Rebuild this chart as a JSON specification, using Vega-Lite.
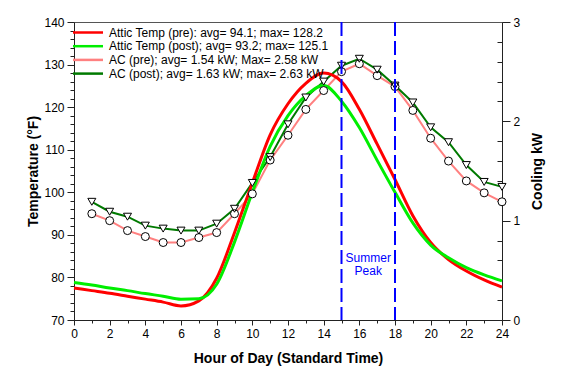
{
  "$schema": "https://vega.github.io/schema/vega-lite/v6.json",
  "width": 428,
  "height": 298,
  "autosize": "none",
  "padding": {"left": 74, "top": 22, "right": 59, "bottom": 66},
  "background": "white",
  "config": {
    "font": "Liberation Sans",
    "view": {"stroke": "#555", "strokeWidth": 1},
    "axis": {
      "grid": false,
      "labelFont": "Liberation Sans",
      "labelFontSize": 12,
      "labelColor": "#000",
      "titleFont": "Liberation Sans",
      "titleFontSize": 14,
      "titleFontWeight": "bold",
      "titleColor": "#000",
      "domainColor": "#222",
      "tickColor": "#222",
      "labelOverlap": false,
      "labelFlush": false
    },
    "legend": {"labelFont": "Liberation Sans", "labelFontSize": 12, "labelColor": "#000", "padding": 0}
  },
  "datasets": {
    "temp": [
      {"hour": 0, "series": "Attic Temp (pre): avg= 94.1; max= 128.2", "T": 77.5},
      {"hour": 1, "series": "Attic Temp (pre): avg= 94.1; max= 128.2", "T": 76.9},
      {"hour": 2, "series": "Attic Temp (pre): avg= 94.1; max= 128.2", "T": 76.3},
      {"hour": 3, "series": "Attic Temp (pre): avg= 94.1; max= 128.2", "T": 75.6},
      {"hour": 4, "series": "Attic Temp (pre): avg= 94.1; max= 128.2", "T": 74.9},
      {"hour": 5, "series": "Attic Temp (pre): avg= 94.1; max= 128.2", "T": 74.2},
      {"hour": 6, "series": "Attic Temp (pre): avg= 94.1; max= 128.2", "T": 73.3},
      {"hour": 7, "series": "Attic Temp (pre): avg= 94.1; max= 128.2", "T": 74.5},
      {"hour": 8, "series": "Attic Temp (pre): avg= 94.1; max= 128.2", "T": 79.8},
      {"hour": 9, "series": "Attic Temp (pre): avg= 94.1; max= 128.2", "T": 90.5},
      {"hour": 10, "series": "Attic Temp (pre): avg= 94.1; max= 128.2", "T": 102.2},
      {"hour": 11, "series": "Attic Temp (pre): avg= 94.1; max= 128.2", "T": 113.5},
      {"hour": 12, "series": "Attic Temp (pre): avg= 94.1; max= 128.2", "T": 120.8},
      {"hour": 13, "series": "Attic Temp (pre): avg= 94.1; max= 128.2", "T": 125.6},
      {"hour": 14, "series": "Attic Temp (pre): avg= 94.1; max= 128.2", "T": 128.0},
      {"hour": 15, "series": "Attic Temp (pre): avg= 94.1; max= 128.2", "T": 126.0},
      {"hour": 16, "series": "Attic Temp (pre): avg= 94.1; max= 128.2", "T": 119.5},
      {"hour": 17, "series": "Attic Temp (pre): avg= 94.1; max= 128.2", "T": 111.3},
      {"hour": 18, "series": "Attic Temp (pre): avg= 94.1; max= 128.2", "T": 103.0},
      {"hour": 19, "series": "Attic Temp (pre): avg= 94.1; max= 128.2", "T": 94.5},
      {"hour": 20, "series": "Attic Temp (pre): avg= 94.1; max= 128.2", "T": 88.2},
      {"hour": 21, "series": "Attic Temp (pre): avg= 94.1; max= 128.2", "T": 84.2},
      {"hour": 22, "series": "Attic Temp (pre): avg= 94.1; max= 128.2", "T": 81.5},
      {"hour": 23, "series": "Attic Temp (pre): avg= 94.1; max= 128.2", "T": 79.4},
      {"hour": 24, "series": "Attic Temp (pre): avg= 94.1; max= 128.2", "T": 77.7},
      {"hour": 0, "series": "Attic Temp (post); avg= 93.2; max= 125.1", "T": 78.8},
      {"hour": 1, "series": "Attic Temp (post); avg= 93.2; max= 125.1", "T": 78.2},
      {"hour": 2, "series": "Attic Temp (post); avg= 93.2; max= 125.1", "T": 77.5},
      {"hour": 3, "series": "Attic Temp (post); avg= 93.2; max= 125.1", "T": 76.9},
      {"hour": 4, "series": "Attic Temp (post); avg= 93.2; max= 125.1", "T": 76.2},
      {"hour": 5, "series": "Attic Temp (post); avg= 93.2; max= 125.1", "T": 75.6},
      {"hour": 6, "series": "Attic Temp (post); avg= 93.2; max= 125.1", "T": 74.9},
      {"hour": 7, "series": "Attic Temp (post); avg= 93.2; max= 125.1", "T": 75.0},
      {"hour": 8, "series": "Attic Temp (post); avg= 93.2; max= 125.1", "T": 78.4},
      {"hour": 9, "series": "Attic Temp (post); avg= 93.2; max= 125.1", "T": 88.3},
      {"hour": 10, "series": "Attic Temp (post); avg= 93.2; max= 125.1", "T": 100.0},
      {"hour": 11, "series": "Attic Temp (post); avg= 93.2; max= 125.1", "T": 110.8},
      {"hour": 12, "series": "Attic Temp (post); avg= 93.2; max= 125.1", "T": 118.0},
      {"hour": 13, "series": "Attic Temp (post); avg= 93.2; max= 125.1", "T": 122.7},
      {"hour": 14, "series": "Attic Temp (post); avg= 93.2; max= 125.1", "T": 125.1},
      {"hour": 15, "series": "Attic Temp (post); avg= 93.2; max= 125.1", "T": 121.4},
      {"hour": 16, "series": "Attic Temp (post); avg= 93.2; max= 125.1", "T": 115.2},
      {"hour": 17, "series": "Attic Temp (post); avg= 93.2; max= 125.1", "T": 107.5},
      {"hour": 18, "series": "Attic Temp (post); avg= 93.2; max= 125.1", "T": 100.0},
      {"hour": 19, "series": "Attic Temp (post); avg= 93.2; max= 125.1", "T": 92.8},
      {"hour": 20, "series": "Attic Temp (post); avg= 93.2; max= 125.1", "T": 87.6},
      {"hour": 21, "series": "Attic Temp (post); avg= 93.2; max= 125.1", "T": 84.6},
      {"hour": 22, "series": "Attic Temp (post); avg= 93.2; max= 125.1", "T": 82.3},
      {"hour": 23, "series": "Attic Temp (post); avg= 93.2; max= 125.1", "T": 80.6},
      {"hour": 24, "series": "Attic Temp (post); avg= 93.2; max= 125.1", "T": 79.2}
    ],
    "ac": [
      {"hour": 1, "series": "AC (pre); avg= 1.54 kW; Max= 2.58 kW", "kW": 1.07},
      {"hour": 2, "series": "AC (pre); avg= 1.54 kW; Max= 2.58 kW", "kW": 1.00},
      {"hour": 3, "series": "AC (pre); avg= 1.54 kW; Max= 2.58 kW", "kW": 0.90},
      {"hour": 4, "series": "AC (pre); avg= 1.54 kW; Max= 2.58 kW", "kW": 0.84},
      {"hour": 5, "series": "AC (pre); avg= 1.54 kW; Max= 2.58 kW", "kW": 0.78},
      {"hour": 6, "series": "AC (pre); avg= 1.54 kW; Max= 2.58 kW", "kW": 0.78},
      {"hour": 7, "series": "AC (pre); avg= 1.54 kW; Max= 2.58 kW", "kW": 0.83},
      {"hour": 8, "series": "AC (pre); avg= 1.54 kW; Max= 2.58 kW", "kW": 0.88},
      {"hour": 9, "series": "AC (pre); avg= 1.54 kW; Max= 2.58 kW", "kW": 1.07},
      {"hour": 10, "series": "AC (pre); avg= 1.54 kW; Max= 2.58 kW", "kW": 1.27},
      {"hour": 11, "series": "AC (pre); avg= 1.54 kW; Max= 2.58 kW", "kW": 1.61},
      {"hour": 12, "series": "AC (pre); avg= 1.54 kW; Max= 2.58 kW", "kW": 1.86},
      {"hour": 13, "series": "AC (pre); avg= 1.54 kW; Max= 2.58 kW", "kW": 2.12},
      {"hour": 14, "series": "AC (pre); avg= 1.54 kW; Max= 2.58 kW", "kW": 2.31},
      {"hour": 15, "series": "AC (pre); avg= 1.54 kW; Max= 2.58 kW", "kW": 2.50},
      {"hour": 16, "series": "AC (pre); avg= 1.54 kW; Max= 2.58 kW", "kW": 2.58},
      {"hour": 17, "series": "AC (pre); avg= 1.54 kW; Max= 2.58 kW", "kW": 2.46},
      {"hour": 18, "series": "AC (pre); avg= 1.54 kW; Max= 2.58 kW", "kW": 2.35},
      {"hour": 19, "series": "AC (pre); avg= 1.54 kW; Max= 2.58 kW", "kW": 2.11},
      {"hour": 20, "series": "AC (pre); avg= 1.54 kW; Max= 2.58 kW", "kW": 1.83},
      {"hour": 21, "series": "AC (pre); avg= 1.54 kW; Max= 2.58 kW", "kW": 1.60},
      {"hour": 22, "series": "AC (pre); avg= 1.54 kW; Max= 2.58 kW", "kW": 1.40},
      {"hour": 23, "series": "AC (pre); avg= 1.54 kW; Max= 2.58 kW", "kW": 1.28},
      {"hour": 24, "series": "AC (pre); avg= 1.54 kW; Max= 2.58 kW", "kW": 1.19},
      {"hour": 1, "series": "AC (post); avg= 1.63 kW; max= 2.63 kW", "kW": 1.19},
      {"hour": 2, "series": "AC (post); avg= 1.63 kW; max= 2.63 kW", "kW": 1.09},
      {"hour": 3, "series": "AC (post); avg= 1.63 kW; max= 2.63 kW", "kW": 1.04},
      {"hour": 4, "series": "AC (post); avg= 1.63 kW; max= 2.63 kW", "kW": 0.95},
      {"hour": 5, "series": "AC (post); avg= 1.63 kW; max= 2.63 kW", "kW": 0.92},
      {"hour": 6, "series": "AC (post); avg= 1.63 kW; max= 2.63 kW", "kW": 0.90},
      {"hour": 7, "series": "AC (post); avg= 1.63 kW; max= 2.63 kW", "kW": 0.90},
      {"hour": 8, "series": "AC (post); avg= 1.63 kW; max= 2.63 kW", "kW": 0.97},
      {"hour": 9, "series": "AC (post); avg= 1.63 kW; max= 2.63 kW", "kW": 1.12},
      {"hour": 10, "series": "AC (post); avg= 1.63 kW; max= 2.63 kW", "kW": 1.38},
      {"hour": 11, "series": "AC (post); avg= 1.63 kW; max= 2.63 kW", "kW": 1.64},
      {"hour": 12, "series": "AC (post); avg= 1.63 kW; max= 2.63 kW", "kW": 1.97},
      {"hour": 13, "series": "AC (post); avg= 1.63 kW; max= 2.63 kW", "kW": 2.24},
      {"hour": 14, "series": "AC (post); avg= 1.63 kW; max= 2.63 kW", "kW": 2.40},
      {"hour": 15, "series": "AC (post); avg= 1.63 kW; max= 2.63 kW", "kW": 2.56},
      {"hour": 16, "series": "AC (post); avg= 1.63 kW; max= 2.63 kW", "kW": 2.63},
      {"hour": 17, "series": "AC (post); avg= 1.63 kW; max= 2.63 kW", "kW": 2.52},
      {"hour": 18, "series": "AC (post); avg= 1.63 kW; max= 2.63 kW", "kW": 2.36},
      {"hour": 19, "series": "AC (post); avg= 1.63 kW; max= 2.63 kW", "kW": 2.19},
      {"hour": 20, "series": "AC (post); avg= 1.63 kW; max= 2.63 kW", "kW": 1.94},
      {"hour": 21, "series": "AC (post); avg= 1.63 kW; max= 2.63 kW", "kW": 1.79},
      {"hour": 22, "series": "AC (post); avg= 1.63 kW; max= 2.63 kW", "kW": 1.56},
      {"hour": 23, "series": "AC (post); avg= 1.63 kW; max= 2.63 kW", "kW": 1.39},
      {"hour": 24, "series": "AC (post); avg= 1.63 kW; max= 2.63 kW", "kW": 1.34}
    ],
    "peak": [{"hour": 15}, {"hour": 18}],
    "note": [{"hour": 16.5, "T": 84.6, "label": "Summer\nPeak"}]
  },
  "encoding": {
    "x": {
      "field": "hour",
      "type": "quantitative",
      "scale": {"domain": [0, 24], "nice": false, "zero": false},
      "axis": null
    }
  },
  "layer": [
    {
      "data": {"name": "ac"},
      "mark": {"type": "line", "strokeWidth": 2, "interpolate": "linear"},
      "encoding": {
        "x": {
          "field": "hour",
          "type": "quantitative",
          "scale": {"domain": [0, 24], "nice": false, "zero": false},
          "axis": {
            "orient": "bottom",
            "title": "Hour of Day (Standard Time)",
            "values": [0,2,4,6,8,10,12,14,16,18,20,22,24],
            "tickSize": 5,
            "labelPadding": 3,
            "titleY": 38,
            "titleBaseline": "middle"
          }
        },
        "y": {
          "field": "kW",
          "type": "quantitative",
          "scale": {"domain": [0, 3], "nice": false},
          "axis": {
            "orient": "right",
            "title": "Cooling kW",
            "values": [0, 1, 2, 3],
            "tickSize": 8,
            "labelPadding": 3,
            "titleAngle": 270,
            "titleX": 35,
            "titleY": 149,
            "titleBaseline": "middle",
            "titleAlign": "center"
          }
        },
        "color": {
          "field": "series",
          "type": "nominal",
          "scale": {
            "domain": ["Attic Temp (pre): avg= 94.1; max= 128.2", "Attic Temp (post); avg= 93.2; max= 125.1", "AC (pre); avg= 1.54 kW; Max= 2.58 kW", "AC (post); avg= 1.63 kW; max= 2.63 kW"],
            "range": ["#ff0000", "#00ee00", "#ff8080", "#007a00"]
          }
        }
      }
    },
    {
      "data": {"name": "temp"},
      "mark": {"type": "line", "strokeWidth": 3, "interpolate": "monotone"},
      "encoding": {
        "y": {
          "field": "T",
          "type": "quantitative",
          "scale": {"domain": [70, 140], "nice": false, "zero": false},
          "axis": {
            "orient": "left",
            "title": "Temperature (°F)",
            "values": [70, 80, 90, 100, 110, 120, 130, 140],
            "tickSize": 7,
            "labelPadding": 3,
            "titleAngle": 270,
            "titleX": -41,
            "titleY": 149,
            "titleBaseline": "middle",
            "titleAlign": "center"
          }
        },
        "color": {
          "field": "series",
          "type": "nominal",
          "scale": {
            "domain": ["Attic Temp (pre): avg= 94.1; max= 128.2", "Attic Temp (post); avg= 93.2; max= 125.1", "AC (pre); avg= 1.54 kW; Max= 2.58 kW", "AC (post); avg= 1.63 kW; max= 2.63 kW"],
            "range": ["#ff0000", "#00ee00", "#ff8080", "#007a00"]
          },
          "legend": {
            "orient": "none",
            "legendX": 7.5,
            "legendY": 4,
            "title": null,
            "symbolType": "M-3,0H3",
            "symbolSize": 100,
            "symbolStrokeWidth": 2.5,
            "labelOffset": 14.5,
            "labelLimit": 400,
            "rowPadding": 0.7
          }
        }
      }
    },
    {
      "data": {"name": "ac"},
      "mark": {"type": "point", "filled": true, "fill": "white", "strokeWidth": 0, "opacity": 1},
      "encoding": {
        "x": {
          "field": "hour",
          "type": "quantitative",
          "scale": {"domain": [0, 24], "nice": false, "zero": false},
          "axis": null
        },
        "y": {"field": "kW", "type": "quantitative", "scale": {"domain": [0, 3], "nice": false}, "axis": null},
        "shape": {
          "field": "series",
          "type": "nominal",
          "scale": {"domain": ["AC (pre); avg= 1.54 kW; Max= 2.58 kW", "AC (post); avg= 1.63 kW; max= 2.63 kW"], "range": ["circle", "triangle-down"]},
          "legend": null
        },
        "size": {"value": 64}
      }
    },
    {
      "data": {"name": "ac"},
      "mark": {"type": "point", "filled": false, "color": "black", "strokeWidth": 1, "opacity": 1},
      "encoding": {
        "x": {
          "field": "hour",
          "type": "quantitative",
          "scale": {"domain": [0, 24], "nice": false, "zero": false},
          "axis": {
            "orient": "bottom",
            "title": null,
            "values": [1,3,5,7,9,11,13,15,17,19,21,23],
            "labels": false,
            "domain": false,
            "tickSize": 3
          }
        },
        "y": {
          "field": "kW",
          "type": "quantitative",
          "scale": {"domain": [0, 3], "nice": false},
          "axis": {
            "orient": "right",
            "title": null,
            "values": [0.2,0.4,0.6,0.8,1.2,1.4,1.6,1.8,2.2,2.4,2.6,2.8],
            "labels": false,
            "domain": false,
            "tickSize": -5
          }
        },
        "shape": {
          "field": "series",
          "type": "nominal",
          "scale": {"domain": ["AC (pre); avg= 1.54 kW; Max= 2.58 kW", "AC (post); avg= 1.63 kW; max= 2.63 kW"], "range": ["circle", "triangle-down"]},
          "legend": {
            "orient": "top-left",
            "offset": 10.5,
            "title": " ",
            "titleFontSize": 14,
            "titlePadding": 6,
            "symbolSize": 64,
            "symbolStrokeWidth": 1,
            "labelExpr": "' '",
            "rowPadding": 0.7
          }
        },
        "size": {"value": 64}
      }
    },
    {
      "data": {"name": "peak"},
      "mark": {"type": "rule", "color": "#0000ff", "strokeWidth": 2, "strokeDash": [14, 5]},
      "encoding": {}
    },
    {
      "data": {"name": "note"},
      "mark": {"type": "text", "color": "#0000ff", "fontSize": 12, "lineBreak": "\n", "lineHeight": 13, "align": "center", "baseline": "middle", "font": "Liberation Sans"},
      "encoding": {
        "y": {
          "field": "T",
          "type": "quantitative",
          "scale": {"domain": [70, 140], "nice": false, "zero": false},
          "axis": {
            "orient": "left",
            "title": null,
            "values": [72,74,76,78,82,84,86,88,92,94,96,98,102,104,106,108,112,114,116,118,122,124,126,128,132,134,136,138],
            "labels": false,
            "domain": false,
            "tickSize": 4
          }
        },
        "text": {"field": "label"}
      }
    }
  ],
  "resolve": {"scale": {"x": "independent", "y": "independent"}}
}
